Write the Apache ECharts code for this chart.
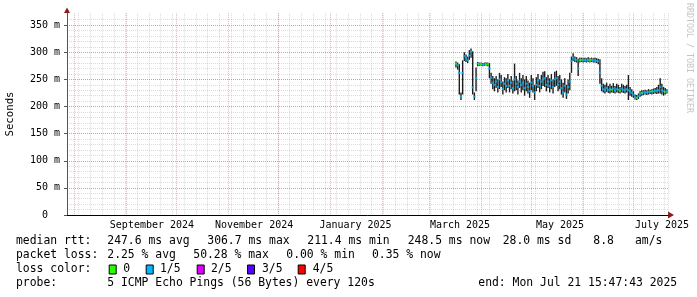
<!DOCTYPE html>
<html><head><meta charset="utf-8">
<script src="https://cdn.jsdelivr.net/npm/echarts@6/dist/echarts.min.js"></script>
<style>html,body{margin:0;padding:0;background:#fff}#c{width:697px;height:297px}</style>
</head><body><div id="c"></div><script>
// ---------------- data ----------------
const axisStart = '2024-07-27T15:47:43Z';
const axisEnd = '2025-07-21T15:47:43Z';
const firstDay = '2025-03-17T00:00:00Z'; // one sample per day from here
const smokeLow = [272,268,222,212,222,284,282,280,286,290,222,212,228,274,275,275,274,275,275,274,
  252,242,232,228,234,226,232,236,222,230,226,234,226,232,224,228,230,222,234,226,
  230,220,228,224,216,230,226,212,228,234,226,232,238,236,228,234,226,232,224,236,
  238,228,232,222,216,226,214,224,230,262,284,282,281,256,281,282,281,282,281,282,
  281,282,281,281,280,278,242,228,226,224,227,225,224,226,225,224,226,225,224,226,
  225,224,226,212,220,218,216,213,212,214,218,220,221,222,221,222,223,222,223,224,
  223,224,224,222,220,222,224];
const smokeHigh = [283,281,278,226,285,300,296,292,304,307,302,226,272,282,281,281,280,281,281,281,
  280,262,256,252,256,250,262,258,246,254,252,260,250,256,248,279,256,248,262,252,
  258,250,256,248,244,258,252,240,254,260,250,258,264,265,254,258,252,260,250,264,
  266,256,258,250,244,252,240,250,262,292,298,292,291,288,290,290,289,290,289,291,
  289,290,289,290,289,288,287,252,242,240,244,238,242,238,243,238,242,240,236,242,
  240,238,240,258,236,232,228,222,221,224,228,230,230,231,230,232,231,232,233,234,
  236,240,252,242,236,234,232];
const medianRtt = [279,276,262,218,262,293,289,285,294,301,235,218,252,279,278,278,277,278,277,278,
  270,253,244,240,246,236,250,245,232,242,238,248,238,244,234,250,242,236,246,240,
  244,234,242,236,228,244,238,226,240,248,238,246,250,252,240,246,238,248,236,250,
  252,240,246,234,226,238,222,236,246,284,290,287,286,270,285,286,285,286,285,286,
  285,286,285,285,284,283,262,238,232,230,234,230,232,231,233,229,232,231,229,233,
  231,230,232,230,228,225,222,217,216,219,223,225,226,226,226,227,227,228,228,229,
  229,230,236,230,228,227,228];
const lossLevel = [0,1,1,1,1,1,1,1,1,1,1,1,1,1,0,0,1,1,0,0,
  1,1,1,1,1,1,1,1,1,1,1,1,1,1,1,1,1,1,1,1,
  1,1,1,1,1,1,1,1,1,1,1,1,1,1,1,1,1,1,1,1,
  1,1,1,1,1,1,1,1,1,1,1,1,1,1,0,0,1,1,1,1,
  0,0,1,1,1,1,1,1,1,1,1,1,1,0,1,1,1,1,0,1,
  1,1,1,1,1,1,1,1,0,1,1,0,1,1,1,1,1,0,1,1,
  1,1,1,1,1,0,1];
const monthStarts = ['2024-08-01','2024-09-01','2024-10-01','2024-11-01','2024-12-01','2025-01-01',
  '2025-02-01','2025-03-01','2025-04-01','2025-05-01','2025-06-01','2025-07-01'];
const xLabelNames = ['September 2024','November 2024','January 2025','March 2025','May 2025','July 2025'];
const xLabelDates = ['2024-09-16T10:00:00Z','2024-11-16T10:00:00Z','2025-01-16T00:00:00Z',
  '2025-03-19T10:00:00Z','2025-05-18T03:00:00Z','2025-07-18T02:00:00Z'];
const lossNames = ['0','1/5','2/5','3/5','4/5'];
const lossColors = ['#26ff00','#00b8ff','#dd00ff','#5700ff','#ff0000'];
const rttStats = ['median rtt:','247.6 ms avg','306.7 ms max','211.4 ms min','248.5 ms now','28.0 ms sd','8.8','am/s'];
const lossStats = ['packet loss:','2.25 % avg','50.28 % max','0.00 % min','0.35 % now'];
const probeInfo = ['probe:','5 ICMP Echo Pings (56 Bytes) every 120s','end: Mon Jul 21 15:47:43 2025'];
const yMax = 372;

// ---------------- build ----------------
const DAY = 86400000;
const t0 = Date.parse(firstDay);
const times = medianRtt.map((_, i) => t0 + i * DAY);
const tStart = Date.parse(axisStart), tEnd = Date.parse(axisEnd);
const spanDays = (tEnd - tStart) / DAY;
const labelTimes = xLabelDates.map(d => Date.parse(d));
const monthTimes = monthStarts.map(d => Date.parse(d + 'T00:00:00Z'));
const mono = '"DejaVu Sans Mono", monospace';

const L = 67, R = 29, B = 82, H0 = 215; // plot: x 67..668, y-zero at 215
const pxPerUnit = 0.5425;
const topFor = v => H0 - v * pxPerUnit;

const gridLine = (c) => ({show: true, lineStyle: {color: c, width: 1, type: [1, 1]}});
const GRAY = 'rgba(150,150,150,0.34)';
const RED = 'rgba(210,70,70,0.42)';

const option = {
  animation: false,
  backgroundColor: '#fff',
  grid: [
    {left: L, right: R, top: topFor(yMax), bottom: B},
    {left: L, right: R, top: topFor(360), bottom: B},
    {left: L, right: R, top: topFor(350), bottom: B}
  ],
  xAxis: [
    {type: 'value', gridIndex: 0, min: tStart, max: tEnd,
     axisLine: {show: true, lineStyle: {color: '#000', width: 1}},
     axisTick: {show: false}, splitLine: {show: false},
     axisLabel: {customValues: labelTimes, color: '#000', fontFamily: mono, fontSize: 10, margin: 5,
       hideOverlap: false, showMinLabel: true, showMaxLabel: true,
       formatter: v => { const i = labelTimes.findIndex(t => Math.abs(t - v) < 60000); return i >= 0 ? xLabelNames[i] : ''; }}},
    {type: 'value', gridIndex: 0, min: 0, max: Math.round(spanDays), interval: 7,
     axisLine: {show: false}, axisTick: {show: false}, axisLabel: {show: false},
     splitLine: gridLine(GRAY)},
    {type: 'value', gridIndex: 1, min: 0, max: 1, show: false},
    {type: 'value', gridIndex: 2, min: 0, max: 1, show: false},
    {type: 'value', gridIndex: 0, min: tStart, max: tEnd,
     axisLine: {show: false}, axisLabel: {show: false},
     axisTick: {show: false, customValues: monthTimes},
     splitLine: gridLine(RED)}
  ],
  yAxis: [
    {type: 'value', gridIndex: 0, min: 0, max: yMax,
     axisLine: {show: true, lineStyle: {color: '#555', width: 1}},
     axisTick: {show: false}, axisLabel: {show: false}, splitLine: {show: false}},
    {type: 'value', gridIndex: 1, min: 0, max: 360, interval: 10,
     axisLine: {show: false}, axisTick: {show: false}, axisLabel: {show: false},
     splitLine: gridLine(GRAY)},
    {type: 'value', gridIndex: 2, min: 0, max: 350, interval: 50,
     axisLine: {show: false},
     axisTick: {show: true, length: 3, lineStyle: {color: '#555'}},
     axisLabel: {color: '#000', fontFamily: mono, fontSize: 10, margin: 7,
       formatter: v => v === 0 ? '0\u00a0\u00a0' : v + ' m'},
     splitLine: gridLine(RED)}
  ],
  series: [
    {type: 'custom', name: 'smoke', xAxisIndex: 0, yAxisIndex: 0, silent: true, z: 3,
     data: times.map((t, i) => [t, smokeLow[i], smokeHigh[i]]),
     encode: {x: 0, y: [1, 2]},
     renderItem: (params, api) => {
       const a = api.coord([api.value(0), api.value(1)]);
       const b = api.coord([api.value(0), api.value(2)]);
       return {type: 'rect', shape: {x: a[0] - 0.7, y: b[1], width: 1.4, height: Math.max(1, a[1] - b[1])},
         style: {fill: '#1e1e1e'}};
     }},
    {type: 'scatter', name: 'median', xAxisIndex: 0, yAxisIndex: 0, symbol: 'rect', symbolSize: [2.4, 2],
     z: 5, silent: true,
     itemStyle: {color: p => lossColors[lossLevel[p.dataIndex]]},
     data: times.map((t, i) => [t, medianRtt[i]])}
  ],
  graphic: []
};

const g = option.graphic;
g.push({type: 'polygon', shape: {points: [[64, 13], [70, 13], [67, 7.5]]}, style: {fill: '#8b1c1c'}});
g.push({type: 'polygon', shape: {points: [[668, 211.5], [668, 218.5], [674, 215]]}, style: {fill: '#8b1c1c'}});
g.push({type: 'text', x: 10.5, y: 114, rotation: Math.PI / 2,
  style: {text: 'Seconds', font: '10.7px ' + mono, fill: '#000', align: 'center', verticalAlign: 'middle'}});
g.push({type: 'text', x: 689, y: 58, rotation: -Math.PI / 2,
  style: {text: 'RRDTOOL / TOBI OETIKER', font: '8.3px ' + mono, fill: '#c4c4c4', align: 'center', verticalAlign: 'middle'}});

const legendFont = '11.4px ' + mono;
const addRow = (items, xs, y) => items.forEach((s, i) => g.push({type: 'text', x: xs[i], y,
  style: {text: s, font: legendFont, fill: '#000', align: 'left', verticalAlign: 'middle'}}));
addRow(rttStats, [16, 107.3, 207.3, 307.3, 407.7, 502.7, 593.3, 635], 241.5);
addRow(lossStats, [16, 107.3, 193.3, 286.3, 372], 255.5);
addRow(['loss color:'], [16], 269.5);
const boxX = [108.7, 145.7, 196.7, 247, 297.7];
const boxLabelX = [123.3, 160, 211, 262, 312.7];
lossNames.forEach((n, i) => {
  g.push({type: 'rect', shape: {x: boxX[i] + 0.5, y: 265, width: 7, height: 9},
    style: {fill: lossColors[i], stroke: '#000', lineWidth: 1}});
  g.push({type: 'text', x: boxLabelX[i], y: 269.5,
    style: {text: n, font: legendFont, fill: '#000', align: 'left', verticalAlign: 'middle'}});
});
addRow(probeInfo, [16, 107.3, 478.3], 283.5);

const chart = echarts.init(document.getElementById('c'), null, {renderer: 'canvas'});
chart.setOption(option);
</script></body></html>
